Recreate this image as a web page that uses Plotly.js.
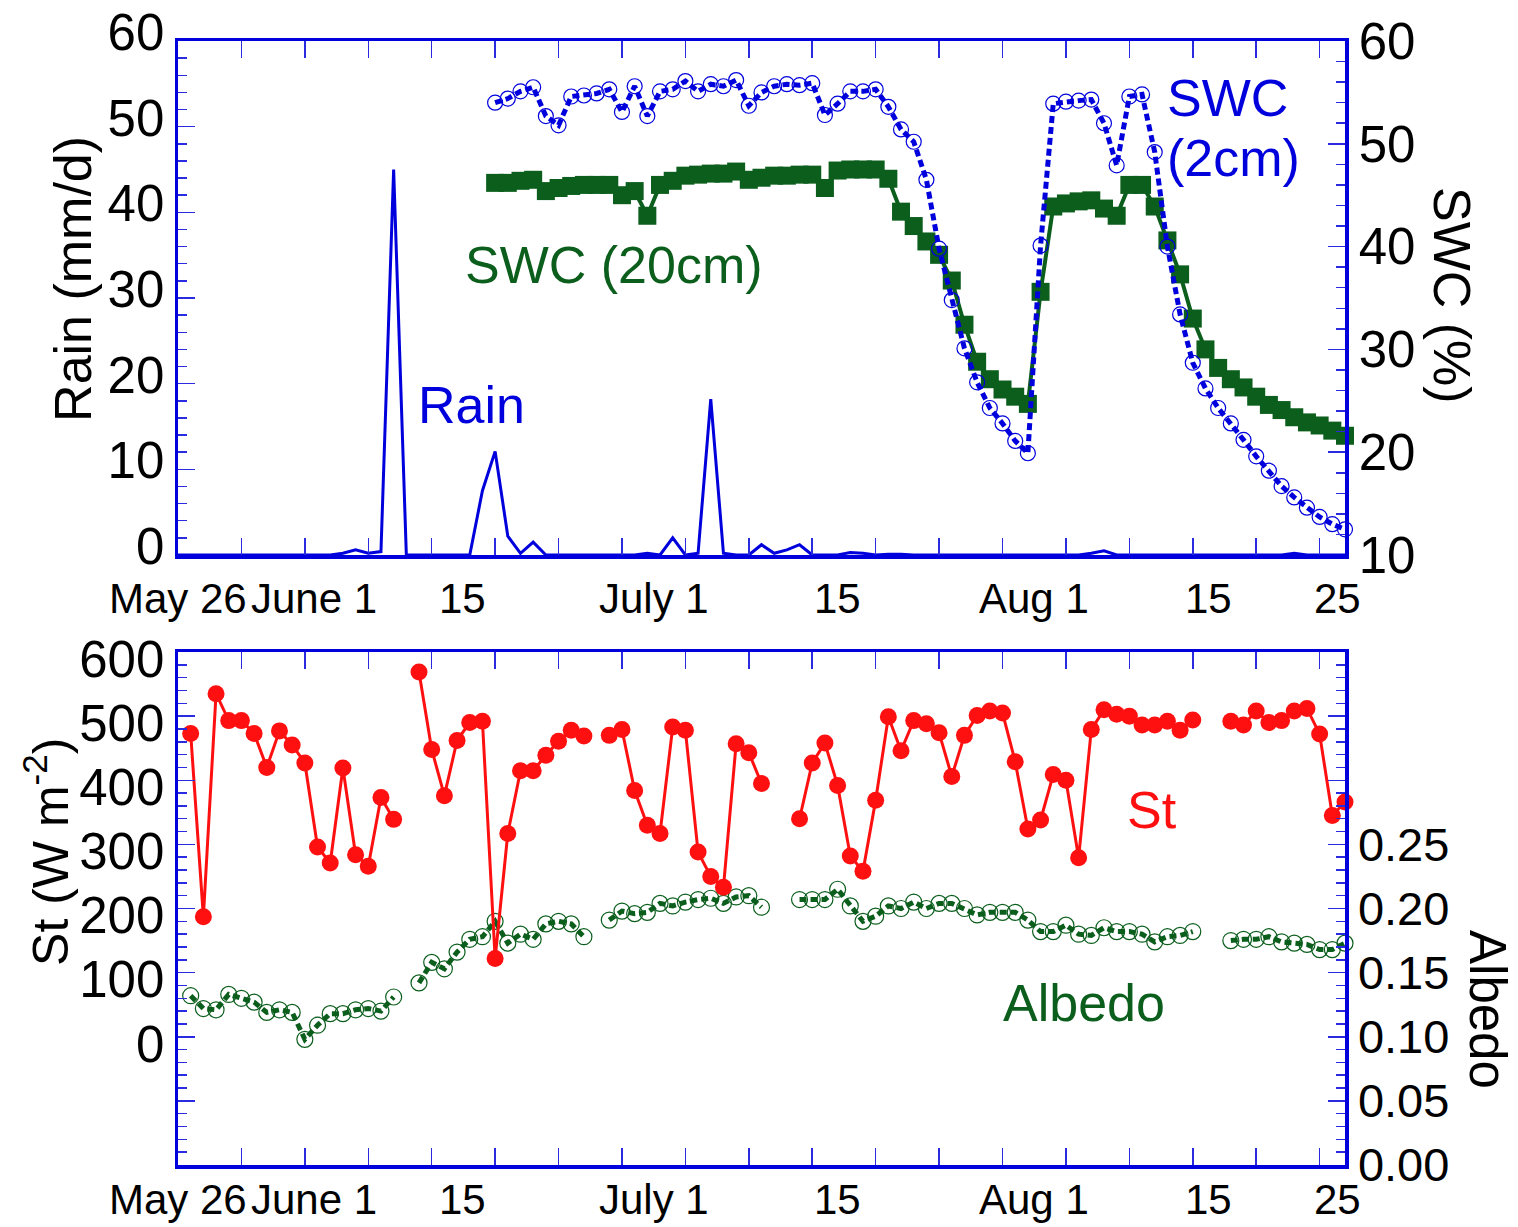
<!DOCTYPE html>
<html>
<head>
<meta charset="utf-8">
<script src="https://cdn.plot.ly/plotly-3.0.1.min.js"></script>
<style>
html,body{margin:0;padding:0;background:#ffffff;}
#chart{width:1518px;height:1227px;}
</style>
</head>
<body>
<div id="chart"></div>
<script>
// ---- Data (x = days after May 26) ----
const rainDays = [0,1,2,3,4,5,6,7,8,9,10,11,12,13,14,15,16,17,18,19,20,21,22,23,24,25,26,27,28,29,30,31,32,33,34,35,36,37,38,39,40,41,42,43,44,45,46,47,48,49,50,51,52,53,54,55,56,57,58,59,60,61,62,63,64,65,66,67,68,69,70,71,72,73,74,75,76,77,78,79,80,81,82,83,84,85,86,87,88,89,90,91,92];
const rain = [0,0,0,0,0,0,0,0,0,0,0,0,0,0.2,0.6,0.2,0.4,45,0,0,0,0,0,0,7.5,12.1,2.2,0.2,1.5,0,0,0,0,0,0,0,0,0.2,0,2.0,0,0.2,18.2,0.2,0,0,1.2,0.2,0.6,1.2,0,0,0,0.3,0.2,0,0.1,0.1,0,0,0,0,0,0,0,0,0,0,0,0,0,0,0.2,0.5,0,0,0,0,0,0,0,0,0,0,0,0,0,0,0.2,0,0,0,0];

const swcDays = [25,26,27,28,29,30,31,32,33,34,35,36,37,38,39,40,41,42,43,44,45,46,47,48,49,50,51,52,53,54,55,56,57,58,59,60,61,62,63,64,65,66,67,68,69,70,71,72,73,74,75,76,77,78,79,80,81,82,83,84,85,86,87,88,89,90,91,92];
const swc2cm = [54.0,54.4,55.1,55.5,52.7,51.8,54.6,54.7,54.9,55.3,53.1,55.6,52.7,55.1,55.3,56.1,55.1,55.8,55.6,56.2,53.7,55.0,55.6,55.8,55.7,55.9,52.8,53.9,55.1,55.1,55.3,53.6,51.4,50.2,46.5,39.8,34.8,30.1,26.8,24.3,22.8,21.1,19.9,40.1,53.9,54.1,54.2,54.3,52.0,47.9,54.6,54.8,49.2,40.0,33.4,28.7,26.2,24.3,22.8,21.2,19.6,18.2,16.7,15.6,14.6,13.7,13.0,12.5];
const swc20cm = [46.2,46.2,46.4,46.5,45.4,45.7,45.9,46.0,46.0,46.0,45.0,45.4,43.0,46.0,46.4,46.9,47.0,47.1,47.1,47.3,46.5,46.7,46.9,46.9,47.0,47.0,45.7,47.4,47.5,47.5,47.5,46.6,43.4,42.0,40.5,39.2,36.7,32.4,28.8,27.1,26.1,25.4,24.7,35.6,43.9,44.2,44.4,44.5,43.7,43.0,46.0,46.0,43.9,40.6,37.3,33.0,30.0,28.2,27.1,26.3,25.4,24.6,24.1,23.4,22.9,22.6,22.1,21.6];

const radDays = [1,2,3,4,5,6,7,8,9,10,11,12,13,14,15,16,17,18,19,20,21,22,23,24,25,26,27,28,29,30,31,32,33,34,35,36,37,38,39,40,41,42,43,44,45,46,47,48,49,50,51,52,53,54,55,56,57,58,59,60,61,62,63,64,65,66,67,68,69,70,71,72,73,74,75,76,77,78,79,80,81,82,83,84,85,86,87,88,89,90,91,92];
const st = [473,187,535,493,493,473,420,477,455,427,296,271,419,284,266,373,339,null,569,448,376,462,490,492,122,317,415,415,439,461,478,469,null,470,479,384,330,317,483,478,288,250,233,457,443,395,null,null,340,427,458,392,282,258,369,499,446,493,488,474,406,470,501,508,505,429,324,338,409,400,279,479,510,503,500,486,486,492,478,494,null,null,492,486,508,490,493,508,512,472,345,366];
const albedo = [0.132,0.122,0.121,0.133,0.130,0.127,0.119,0.121,0.119,0.098,0.109,0.118,0.118,0.121,0.122,0.120,0.131,null,0.142,0.158,0.153,0.166,0.176,0.178,0.190,0.173,0.180,0.176,0.188,0.190,0.188,0.178,null,0.191,0.198,0.196,0.197,0.204,0.202,0.205,0.207,0.208,0.204,0.209,0.210,0.201,null,null,0.207,0.207,0.207,0.215,0.202,0.190,0.194,0.202,0.200,0.205,0.200,0.204,0.204,0.200,0.195,0.197,0.197,0.197,0.191,0.182,0.182,0.187,0.180,0.179,0.185,0.182,0.182,0.180,0.174,0.178,0.179,0.182,null,null,0.175,0.176,0.176,0.178,0.174,0.173,0.172,0.168,0.168,0.173];

// tick labels
const dateLabels = ['May 26','June 1','15','July 1','15','Aug 1','15','25'];
const dateLabelPos = [0,10.7,22.4,37.5,52.0,67.5,81.2,91.4];
const dayTicks = [10,20,30,40,50,60,70,80,90];
const rainTicks = [0,10,20,30,40,50,60];
const swcTicks = [10,20,30,40,50,60];
const stTicks = [0,100,200,300,400,500,600];
const albTicks = [0,0.05,0.10,0.15,0.20,0.25];
const albTickText = ['0.00','0.05','0.10','0.15','0.20','0.25'];

// ---- Styles ----
const BLUE = '#0000dd';
const TICKC = '#2a2adf';
const GREEN = '#0b5e1c';
const RED = '#ff1010';
const FONT = '"Liberation Sans", Arial, sans-serif';

const traces = [
  {x: rainDays, y: rain, xaxis:'x', yaxis:'y', mode:'lines', name:'Rain',
   line:{color:BLUE, width:3}, cliponaxis:false},
  {x: swcDays, y: swc20cm, xaxis:'x', yaxis:'y2', mode:'lines+markers', name:'SWC (20cm)',
   line:{color:GREEN, width:4}, marker:{symbol:'square', size:18, color:GREEN}, cliponaxis:false},
  {x: swcDays, y: swc2cm, xaxis:'x', yaxis:'y2', mode:'lines+markers', name:'SWC (2cm)',
   line:{color:BLUE, width:5, dash:'7px,4px'},
   marker:{symbol:'circle-open', size:15, color:BLUE, line:{width:1.2}}, cliponaxis:false},
  {x: radDays, y: albedo, xaxis:'x2', yaxis:'y3', mode:'lines+markers', name:'Albedo',
   line:{color:GREEN, width:5, dash:'7px,4px'}, connectgaps:false,
   marker:{symbol:'circle-open', size:16, color:GREEN, line:{width:1.2}}, cliponaxis:false},
  {x: radDays, y: st, xaxis:'x2', yaxis:'y4', mode:'lines+markers', name:'St',
   line:{color:RED, width:3}, connectgaps:false,
   marker:{symbol:'circle', size:17, color:RED}, cliponaxis:false}
];

function markAxis(anchor){
  return {
    anchor: anchor, domain:[0,1], range:[0,92], showline:true, linecolor:BLUE, linewidth:3.5,
    mirror:'allticks', ticks:'inside', tickmode:'array', tickvals:dayTicks, ticklen:17,
    tickwidth:1.5, tickcolor:TICKC, showticklabels:false, showgrid:false, zeroline:false,
    minor:{tickmode:'linear', tick0:0, dtick:5, ticks:'inside', ticklen:9, tickwidth:1.5, tickcolor:TICKC, showgrid:false}
  };
}
function yAx(o){
  return Object.assign({
    showline:true, linecolor:BLUE, linewidth:3.5, ticks:'inside', ticklen:17, tickwidth:1.5,
    tickcolor:TICKC, showgrid:false, zeroline:false, tickmode:'array',
    tickfont:{family:FONT, size:51, color:'#000'}
  }, o);
}

// date tick labels for both panels (built from the label arrays)
const dateAnnots = [];
[['x', 0.5036], ['x2', -0.0311]].forEach(([xr, yp]) => {
  dateLabels.forEach((t, i) => {
    dateAnnots.push({text:t, xref:xr, yref:'paper', x:dateLabelPos[i], y:yp, showarrow:false,
      xanchor:'center', yanchor:'middle', font:{family:FONT, size:42, color:'#000'}});
  });
});

const layout = {
  width:1518, height:1227,
  margin:{l:178, r:173, t:41, b:62},
  paper_bgcolor:'#ffffff', plot_bgcolor:'rgba(0,0,0,0)',
  showlegend:false,
  font:{family:FONT, color:'#000'},
  xaxis: markAxis('y'),
  xaxis2: markAxis('y3'),
  yaxis: yAx({domain:[0.5427,1], anchor:'x', range:[0,60], tickvals:rainTicks, mirror:true, ticklabelshift:-9,
    minor:{tickmode:'linear', tick0:0, dtick:2, ticks:'inside', ticklen:9, tickwidth:1.5, tickcolor:TICKC}}),
  yaxis2: yAx({overlaying:'y', side:'right', anchor:'x', range:[10,60], tickvals:swcTicks,
    minor:{tickmode:'linear', tick0:10, dtick:2, ticks:'inside', ticklen:9, tickwidth:1.5, tickcolor:TICKC}}),
  // albedo (right) and St (left) share the same tick grid; each mirrors its ticks to the other side
  yaxis3: yAx({domain:[0,0.4564], anchor:'x2', side:'right', range:[0,0.4], tickvals:albTicks, ticktext:albTickText,
    mirror:'allticks', tickfont:{family:FONT, size:47, color:'#000'}}),
  yaxis4: yAx({overlaying:'y3', side:'left', anchor:'x2', range:[-200,600], tickvals:stTicks, mirror:'allticks', ticklabelshift:7,
    minor:{tickmode:'linear', tick0:0, dtick:20, ticks:'inside', ticklen:9, tickwidth:1.5, tickcolor:TICKC}}),
  annotations:[
    {text:'Rain (mm/d)', xref:'paper', yref:'paper', x:-0.090, y:0.7883, textangle:-90, showarrow:false,
     xanchor:'center', yanchor:'middle', font:{family:FONT, size:52, color:'#000'}},
    {text:'SWC (%)', xref:'paper', yref:'paper', x:1.0917, y:0.774, textangle:90, showarrow:false,
     xanchor:'center', yanchor:'middle', font:{family:FONT, size:52, color:'#000'}},
    {text:'St (W m<sup>-2</sup>)', xref:'paper', yref:'paper', x:-0.1123, y:0.2785, textangle:-90, showarrow:false,
     xanchor:'center', yanchor:'middle', font:{family:FONT, size:50, color:'#000'}},
    {text:'Albedo', xref:'paper', yref:'paper', x:1.1225, y:0.1379, textangle:90, showarrow:false,
     xanchor:'center', yanchor:'middle', font:{family:FONT, size:51, color:'#000'}},
    {text:'Rain', xref:'x', yref:'y', x:23.1, y:17.5, showarrow:false, xanchor:'center', yanchor:'middle',
     font:{family:FONT, size:52, color:BLUE}},
    {text:'SWC (20cm)', xref:'x', yref:'y', x:34.4, y:33.9, showarrow:false, xanchor:'center', yanchor:'middle',
     font:{family:FONT, size:52, color:GREEN}},
    {text:'SWC', xref:'x', yref:'y', x:77.8, y:53.3, showarrow:false, xanchor:'left', yanchor:'middle',
     font:{family:FONT, size:52, color:BLUE}},
    {text:'(2cm)', xref:'x', yref:'y', x:77.8, y:46.3, showarrow:false, xanchor:'left', yanchor:'middle',
     font:{family:FONT, size:52, color:BLUE}},
    {text:'St', xref:'x2', yref:'y4', x:76.8, y:353, showarrow:false, xanchor:'center', yanchor:'middle',
     font:{family:FONT, size:52, color:RED}},
    {text:'Albedo', xref:'x2', yref:'y4', x:71.4, y:52, showarrow:false, xanchor:'center', yanchor:'middle',
     font:{family:FONT, size:52, color:GREEN}}
  ].concat(dateAnnots)
};

Plotly.newPlot('chart', traces, layout, {staticPlot:true, displayModeBar:false});
</script>
</body>
</html>
